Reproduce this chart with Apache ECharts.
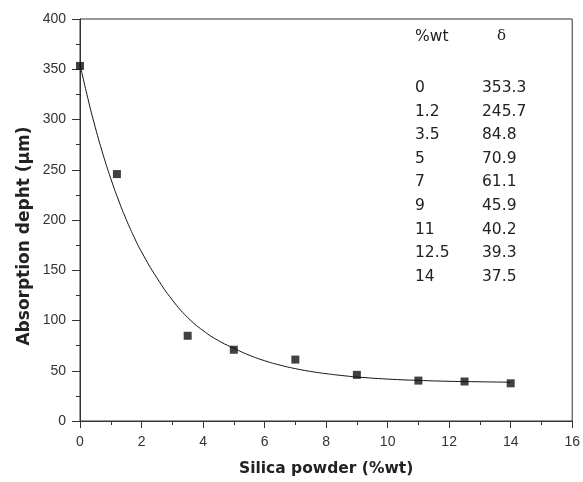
<!DOCTYPE html>
<html><head><meta charset="utf-8">
<script src="https://cdn.jsdelivr.net/npm/echarts@6/dist/echarts.min.js"></script>
<style>html,body{margin:0;padding:0;background:#fff}#c{width:583px;height:482px}</style>
</head><body><div id="c"></div>
<script>
var wt = [0, 1.2, 3.5, 5, 7, 9, 11, 12.5, 14];
var delta = ["353.3", "245.7", "84.8", "70.9", "61.1", "45.9", "40.2", "39.3", "37.5"];
var fitX = [0, 0.25, 0.5, 0.75, 1, 1.25, 1.5, 1.75, 2, 2.5, 3, 3.5, 4, 4.5, 5, 5.5, 6, 6.5, 7, 7.5, 8, 8.5, 9, 10, 11, 12, 13, 14];
var fitY = [355, 321.7, 291.8, 265.1, 241.3, 219.9, 200.7, 183.6, 168.3, 142.4, 120.5, 103, 90, 80, 72.4, 65.5, 60, 55.6, 52.1, 49.3, 47.1, 45.3, 43.8, 41.7, 40.4, 39.5, 39, 38.6];
var xTitle = "Silica powder (%wt)";
var yTitle = "Absorption depht (\u03bcm)";
var tableHead = ["%wt", "\u03b4"];

var chart = echarts.init(document.getElementById('c'), null, {renderer: 'canvas'});
var font = '"Liberation Sans", Arial, sans-serif';
var wide = '"DejaVu Sans", sans-serif';
var graphics = [];
graphics.push({type: 'text', x: 25, y: 236, rotation: Math.PI / 2,
  style: {text: yTitle, font: 'bold 17px ' + wide, fill: '#222', align: 'center', verticalAlign: 'middle'}});
graphics.push({type: 'text', left: 415, top: 29, style: {text: tableHead[0], font: '15.5px ' + wide, fill: '#222'}});
graphics.push({type: 'text', left: 497, top: 29, style: {text: tableHead[1], font: '15px "DejaVu Serif", serif', fill: '#222'}});
for (var i = 0; i < wt.length; i++) {
  graphics.push({type: 'text', left: 415, top: 80 + i * 23.6, style: {text: String(wt[i]), font: '15.5px ' + wide, fill: '#222'}});
  graphics.push({type: 'text', left: 482, top: 80 + i * 23.6, style: {text: delta[i], font: '15.5px ' + wide, fill: '#222'}});
}
var pts = wt.map(function (x, i) { return [x, parseFloat(delta[i])]; });
var fit = fitX.map(function (x, i) { return [x, fitY[i]]; });
chart.setOption({
  animation: false,
  grid: {left: 80, right: 6, top: 19, bottom: 59, show: true, borderColor: '#333', borderWidth: 1},
  xAxis: {
    type: 'value', min: 0, max: 16, interval: 2,
    name: xTitle, nameLocation: 'middle', nameGap: 40,
    nameTextStyle: {fontFamily: wide, fontWeight: 'bold', fontSize: 15.5, color: '#222'},
    axisLine: {show: true, lineStyle: {color: '#333', width: 1}},
    axisTick: {show: true, inside: false, length: 7, lineStyle: {color: '#333'}},
    minorTick: {show: true, splitNumber: 2, length: 4, lineStyle: {color: '#333'}},
    axisLabel: {fontFamily: font, fontSize: 14, color: '#333', margin: 14},
    splitLine: {show: false}
  },
  yAxis: {
    type: 'value', min: 0, max: 400, interval: 50,
    axisLine: {show: true, lineStyle: {color: '#333', width: 1}},
    axisTick: {show: true, inside: false, length: 8, lineStyle: {color: '#333'}},
    minorTick: {show: true, splitNumber: 2, length: 4, lineStyle: {color: '#333'}},
    axisLabel: {fontFamily: font, fontSize: 14, color: '#333', margin: 14},
    splitLine: {show: false}
  },
  series: [
    {type: 'line', data: fit, smooth: true, showSymbol: false, symbol: 'none',
     lineStyle: {color: '#111', width: 1}, z: 2},
    {type: 'scatter', data: pts, symbol: 'rect', symbolSize: 8,
     itemStyle: {color: '#111'}, z: 3}
  ],
  graphic: graphics
});
</script>
</body></html>
